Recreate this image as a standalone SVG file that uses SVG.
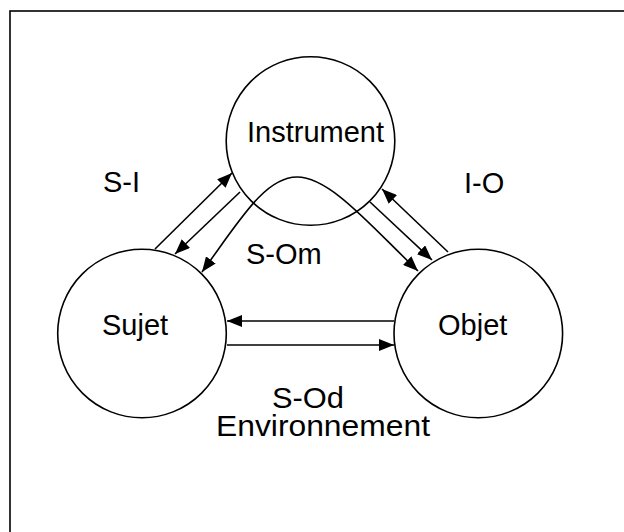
<svg xmlns="http://www.w3.org/2000/svg" width="624" height="532" viewBox="0 0 624 532">
<style>
  .node { fill: #ffffff; stroke: #000000; stroke-width: 1.6; }
  .lbl { font-family: "Liberation Sans", Arial, sans-serif; font-size: 29px; fill: #000000; }
  .edge { fill: none; stroke: #000000; stroke-width: 1.6; marker-end: url(#arr); }
</style>
<defs>
  <marker id="arr" markerUnits="userSpaceOnUse" markerWidth="16" markerHeight="12" refX="15" refY="6" orient="auto">
    <path d="M0,0 L15,6 L0,12 z" fill="#000000"/>
  </marker>
</defs>
<rect x="10" y="11" width="700" height="600" fill="#ffffff" stroke="#000000" stroke-width="1.6"/>
<g id="instrument">
  <circle class="node" cx="310.5" cy="141" r="84.3"/>
  <text class="lbl" x="247" y="142">Instrument</text>
</g>
<g id="sujet">
  <circle class="node" cx="142" cy="333.5" r="84.3"/>
  <text class="lbl" x="102" y="335">Sujet</text>
</g>
<g id="objet">
  <circle class="node" cx="478.3" cy="333.5" r="84.3"/>
  <text class="lbl" x="438" y="335">Objet</text>
</g>
<g id="connectors">
  <line class="edge" x1="155" y1="249" x2="232" y2="173"/>
  <line class="edge" x1="240" y1="192" x2="175" y2="254"/>
  <line class="edge" x1="448" y1="252" x2="382" y2="189"/>
  <line class="edge" x1="370" y1="202" x2="432" y2="260"/>
  <line class="edge" x1="394" y1="321" x2="227" y2="321"/>
  <line class="edge" x1="227" y1="345" x2="394" y2="345"/>
  <path class="edge" d="M297,177 C265,177 240,220 202,272"/>
  <path class="edge" d="M297,177 C330,177 370,225 418,271"/>
</g>
<g id="labels">
  <text class="lbl" x="103" y="192">S-I</text>
  <text class="lbl" x="464" y="193">I-O</text>
  <text class="lbl" x="246" y="264">S-Om</text>
  <text class="lbl" x="272" y="408" textLength="72" lengthAdjust="spacingAndGlyphs">S-Od</text>
  <text class="lbl" x="216" y="436" textLength="214" lengthAdjust="spacingAndGlyphs">Environnement</text>
</g>
</svg>
